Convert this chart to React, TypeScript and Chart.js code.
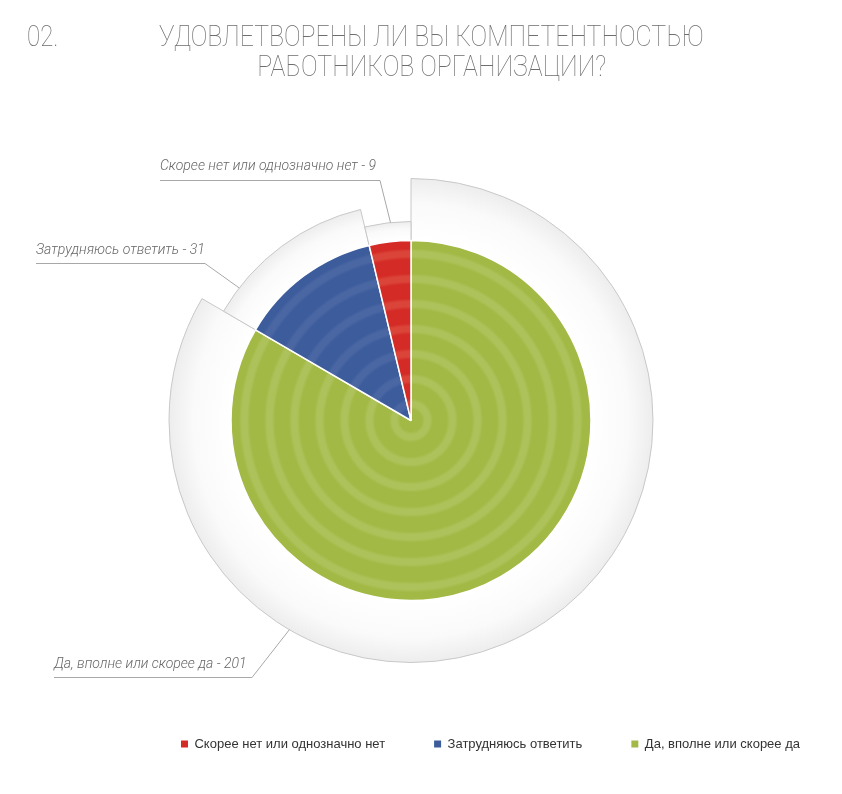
import React, { useEffect, useRef } from "react";
import Chart from "chart.js/auto";

// survey answers, in the order the pie is drawn (clockwise from 12 o'clock)
const categories = [
  "Да, вполне или скорее да",
  "Затрудняюсь ответить",
  "Скорее нет или однозначно нет",
];
const answers = [201, 31, 9];

const baseColors = ["#a3b946", "#3d5c9c", "#d42b27"];
const ringColors = ["#adc25a", "#4a67a3", "#da4439"];
const shellRadii = [242, 217, 199];

// callout positions are page coordinates
const callouts = [
  { index: 2, frac: 0.56, textX: 160, textY: 170, lineY: 180.5, elbowX: 380 },
  { index: 1, frac: 0.16, textX: 36, textY: 254, lineY: 263.5, elbowX: 205 },
  { index: 0, frac: 0.7, textX: 54, textY: 668, lineY: 677.5, elbowX: 252 },
];

const SHIFT = 27; // canvas starts left of the page so the pie sits at x=411
const CANVAS_W = 876;

const centerOf = (chart) => {
  const a = chart.chartArea;
  return { x: (a.left + a.right) / 2, y: (a.top + a.bottom) / 2 };
};

const ringFill = (context) => {
  const i = context.dataIndex;
  const chart = context.chart;
  if (!chart.chartArea) return baseColors[i];
  const { x, y } = centerOf(chart);
  const R = 180;
  const g = chart.ctx.createRadialGradient(x, y, 0, x, y, R);
  g.addColorStop(0, baseColors[i]);
  for (let r = 0; r + 22 <= R; r += 25) {
    g.addColorStop((r + 11) / R, baseColors[i]);
    g.addColorStop((r + 14) / R, ringColors[i]);
    g.addColorStop((r + 19) / R, ringColors[i]);
    g.addColorStop((r + 22) / R, baseColors[i]);
  }
  g.addColorStop(1, baseColors[i]);
  return g;
};

const shellPlugin = {
  id: "shells",
  beforeDatasetsDraw(chart) {
    const ctx = chart.ctx;
    const arcs = chart.getDatasetMeta(0).data;
    arcs.forEach((arc, i) => {
      const { x, y, startAngle, endAngle, outerRadius } = arc.getProps(
        ["x", "y", "startAngle", "endAngle", "outerRadius"],
        true
      );
      const R = shellRadii[i];
      const g = ctx.createRadialGradient(x, y, outerRadius, x, y, R);
      g.addColorStop(0, "#ffffff");
      g.addColorStop(0.6, "#fafafa");
      g.addColorStop(1, "#ededed");
      ctx.save();
      ctx.beginPath();
      ctx.moveTo(x, y);
      ctx.arc(x, y, R, startAngle, endAngle);
      ctx.closePath();
      ctx.fillStyle = g;
      ctx.fill();
      ctx.strokeStyle = "#c8c8c8";
      ctx.lineWidth = 1;
      ctx.stroke();
      ctx.restore();
    });
  },
  afterDatasetsDraw(chart) {
    const ctx = chart.ctx;
    const arcs = chart.getDatasetMeta(0).data;
    ctx.save();
    ctx.font = "italic 300 14px Roboto";
    ctx.textBaseline = "alphabetic";
    ctx.textAlign = "left";
    callouts.forEach((c) => {
      const { x, y, startAngle, endAngle } = arcs[c.index].getProps(
        ["x", "y", "startAngle", "endAngle"],
        true
      );
      const angle = startAngle + c.frac * (endAngle - startAngle);
      const R = shellRadii[c.index];
      const ax = x + R * Math.cos(angle);
      const ay = y + R * Math.sin(angle);
      ctx.beginPath();
      ctx.moveTo(c.textX + SHIFT, c.lineY);
      ctx.lineTo(c.elbowX + SHIFT, c.lineY);
      ctx.lineTo(ax, ay);
      ctx.strokeStyle = "#a8a8a8";
      ctx.lineWidth = 1;
      ctx.stroke();
      ctx.fillStyle = "#666666";
      ctx.fillText(
        `${categories[c.index]} - ${answers[c.index]}`,
        c.textX + SHIFT,
        c.textY
      );
    });
    ctx.restore();
  },
};

const CompetenceChart = () => {
  const chartRef = useRef(null);
  const chartInstance = useRef(null);

  useEffect(() => {
    const ctx = chartRef.current.getContext("2d");
    if (chartInstance.current) {
      chartInstance.current.destroy();
    }

    chartInstance.current = new Chart(ctx, {
      type: "pie",
      data: {
        labels: categories,
        datasets: [
          {
            data: answers,
            backgroundColor: ringFill,
            borderColor: "#ffffff",
            borderWidth: 1.5,
            hoverOffset: 0,
            radius: 180,
          },
        ],
      },
      options: {
        responsive: true,
        maintainAspectRatio: false,
        animation: false,
        layout: {
          // legend top = 744 - 49 - 6.5; chart area centred on y = 420.5
          padding: { top: 152.5, bottom: 33.5, left: 0, right: 0 },
        },
        plugins: {
          tooltip: { enabled: false },
          legend: {
            position: "bottom",
            align: "end",
            reverse: true,
            labels: {
              boxWidth: 7,
              boxHeight: 7,
              padding: 49,
              color: "#333333",
              font: { family: "'Liberation Sans', Arial, sans-serif", size: 13 },
              generateLabels: (chart) =>
                Chart.overrides.pie.plugins.legend.labels
                  .generateLabels(chart)
                  .map((item) => ({
                    ...item,
                    fillStyle: baseColors[item.index],
                    strokeStyle: baseColors[item.index],
                    lineWidth: 0,
                  })),
            },
          },
        },
      },
      plugins: [shellPlugin],
    });

    return () => {
      if (chartInstance.current) {
        chartInstance.current.destroy();
        chartInstance.current = null;
      }
    };
  }, []);

  return (
    <div style={{ position: "absolute", left: -SHIFT, top: 0, width: CANVAS_W, height: 794 }}>
      <canvas ref={chartRef}></canvas>
    </div>
  );
};

const titleStyle = {
  fontFamily: "Roboto, sans-serif",
  fontWeight: 100,
  fontSize: 30,
  lineHeight: "30px",
  color: "#6e6e6e",
  whiteSpace: "nowrap",
};

export default function App() {
  useEffect(() => {
    document.body.style.margin = "0";
    document.body.style.background = "#ffffff";
  }, []);

  return (
    <div style={{ position: "relative", width: 842, height: 794, overflow: "hidden", background: "#fff" }}>
      <CompetenceChart />
      <div style={{ ...titleStyle, position: "absolute", left: 27, top: 21, transform: "scaleX(0.8)", transformOrigin: "left top" }}>
        02.
      </div>
      <div
        style={{
          ...titleStyle,
          position: "absolute",
          left: 157,
          top: 21,
          width: 662,
          textAlign: "center",
          transform: "scaleX(0.83)",
          transformOrigin: "left top",
        }}
      >
        УДОВЛЕТВОРЕНЫ ЛИ ВЫ КОМПЕТЕНТНОСТЬЮ
        <br />
        РАБОТНИКОВ ОРГАНИЗАЦИИ?
      </div>
    </div>
  );
}
